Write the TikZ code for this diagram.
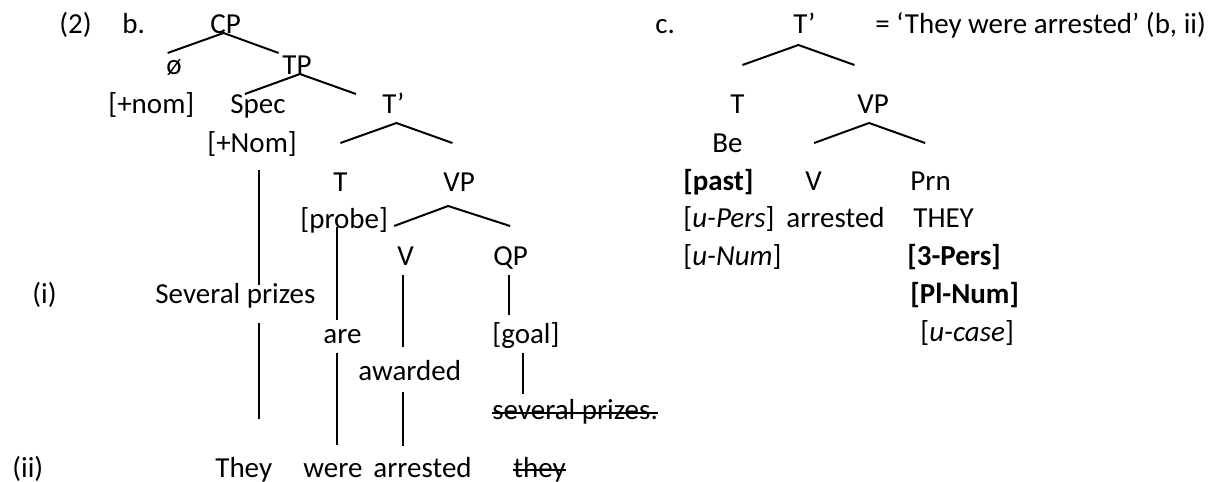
\documentclass[tikz,border=0pt]{standalone}
\usepackage{fontspec}
\setmainfont{Carlito}
\usepackage{tikz}
\usetikzlibrary{calc}
\tikzset{
  word/.style   = {anchor=base west, inner sep=0pt,
                   font=\fontsize{14.5}{17}\selectfont},
  feat/.style   = {word, font=\fontsize{14.5}{17}\selectfont\bfseries},
  branch/.style = {line width=1pt},
  stem/.style   = {line width=1pt},
  strike/.style = {line width=0.9pt},
}

\begin{document}
\begin{tikzpicture}[x=0.5pt, y=-0.5pt]
  \useasboundingbox (0,0) rectangle (1212,482);

  % (2b): labels of the tree
  \node[word] (num)   at (59,33)   {(2)};
  \node[word] (lb)    at (122,33)  {b.};
  \node[word] (CP)    at (210,33)  {CP};
  \node[word] (phi)   at (166,75)  {ø};
  \node[word] (TP)    at (282,75)  {TP};
  \node[word] (nom)   at (108,113) {[+nom]};
  \node[word] (Spec)  at (230,113) {Spec};
  \node[word] (Tbar)  at (382,113) {T’};
  \node[word] (Nom)   at (207,152) {[+Nom]};
  \node[word] (Tb)    at (333,191) {T};
  \node[word] (VPb)   at (443,191) {VP};
  \node[word] (probe) at (300,228) {[probe]};
  \node[word] (Vb)    at (397,265) {V};
  \node[word] (QP)    at (493,265) {QP};

  % (i) and (ii) lines
  \node[word] (li)    at (32,303)  {(i)};
  \node[word] (sev)   at (155,303) {Several prizes};
  \node[word] (are)   at (323,343) {are};
  \node[word] (goal)  at (492,343) {[goal]};
  \node[word] (awd)   at (358,380) {awarded};
  \node[word] (sevs)  at (492,419) {several prizes.};
  \node[word] (lii)   at (12,477)  {(ii)};
  \node[word] (They)  at (215,477) {They};
  \node[word] (were)  at (303,477) {were};
  \node[word] (arr)   at (373,477) {arrested};
  \node[word] (they)  at (513,477) {they};

  % (2c)
  \node[word] (lc)    at (655,33)  {c.};
  \node[word] (Tc)    at (793,33)  {T’};
  \node[word] (gloss) at (875,33)  {= ‘They were arrested’ (b, ii)};
  \node[word] (Tcc)   at (730,113) {T};
  \node[word] (VPc)   at (857,113) {VP};
  \node[word] (Be)    at (712,152) {Be};
  \node[feat] (past)  at (683,190) {[past]};
  \node[word] (Vc)    at (805,190) {V};
  \node[word] (Prn)   at (910,190) {Prn};
  \node[word] (uPers) at (683,227) {[\textit{u-Pers}]};
  \node[word] (arrc)  at (786,227) {arrested};
  \node[word] (THEY)  at (913,227) {THEY};
  \node[word] (uNum)  at (683,265) {[\textit{u-Num}]};
  \node[feat] (pers)  at (907,265) {[3-Pers]};
  \node[feat] (plnum) at (910,303) {[Pl-Num]};
  \node[word] (ucase) at (920,341) {[\textit{u-case}]};

  % branches
  \foreach \p/\dx/\dy/\wl/\wr in {CP/-2/0/56/55, TP/3/-1/55/56, Tbar/3/10/56/56,
      VPb/-11/15/54/62, Tc/-6/12/56/56, VPc/-4/10/55/56}
    \draw[branch] ($(\p.base)+(\dx,\dy)$) +(-\wl,20) -- +(0,0) -- +(\wr,20);

  % stems
  \coordinate (cSpec) at (259,0);
  \coordinate (cT)    at (337,0);
  \coordinate (cV)    at (403,0);
  \coordinate (cQ)    at (509,0);
  \coordinate (cG)    at (523,0);
  \foreach \c/\a/\ta/\b/\tb in {cSpec/Nom/18/sev/18, cSpec/sev/20/They/58,
      cT/probe/-1/are/23, cT/are/10/were/32, cV/Vb/10/awd/33, cV/awd/12/arr/31,
      cQ/QP/10/goal/28, cG/goal/10/sevs/25}
    \draw[stem] ($(\c |- \a.base)+(0,\ta)$) -- ($(\c |- \b.base)+(0,-\tb)$);

  % struck-out copies
  \foreach \n/\h in {sevs/6, they/7}
    \draw[strike] ($(\n.base west)+(0,-\h)$) -- ($(\n.base east)+(0,-\h)$);
\end{tikzpicture}
\end{document}
